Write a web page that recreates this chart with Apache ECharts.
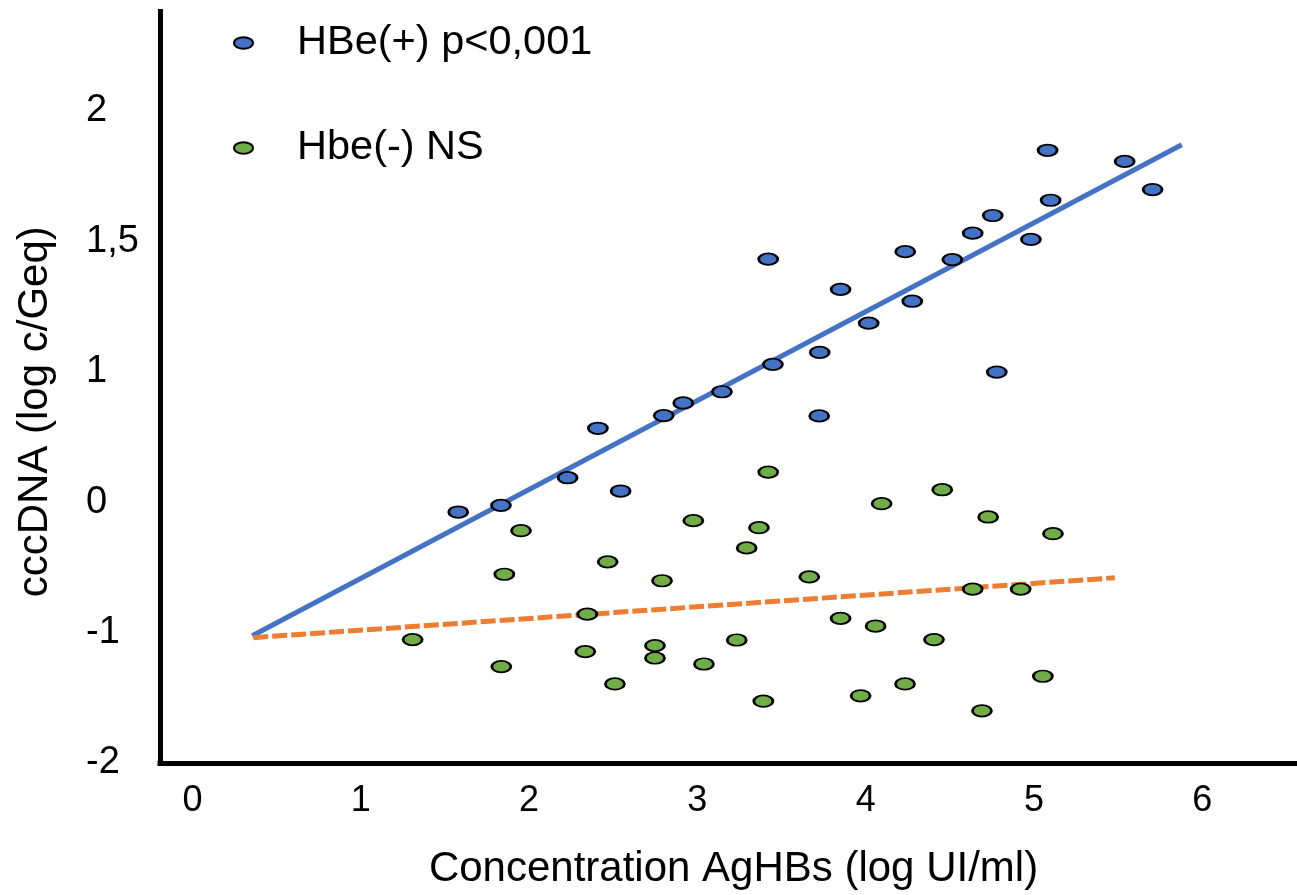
<!DOCTYPE html>
<html>
<head>
<meta charset="utf-8">
<script src="https://cdn.jsdelivr.net/npm/echarts@6/dist/echarts.min.js"></script>
<style>
  html, body { margin: 0; padding: 0; background: #ffffff; }
  #chart { width: 1297px; height: 895px; }
</style>
</head>
<body>
<div id="chart"></div>
<script>
// Horizontal axis: AgHBs concentration (log UI/ml).
// Vertical axis: cccDNA, plotted on evenly spaced tick steps; step i is labelled yTickLabels[i].
const xTickLabels = ['0', '1', '2', '3', '4', '5', '6'];
const yTickLabels = ['-2', '-1', '0', '1', '1,5', '2'];
const seriesNames = ['HBe(+) p<0,001', 'Hbe(-) NS'];

// HBe(+) patients: [AgHBs, cccDNA step]
const hbePositive = [
  [1.579, 1.924], [1.833, 1.975], [2.229, 2.187], [2.544, 2.085], [2.409, 2.566],
  [2.800, 2.663], [2.916, 2.760], [3.146, 2.846], [3.449, 3.056], [3.421, 3.863],
  [3.727, 3.148], [3.724, 2.661], [3.851, 3.631], [4.018, 3.372], [4.235, 3.920],
  [4.277, 3.540], [4.515, 3.859], [4.636, 4.062], [4.755, 4.197], [4.779, 2.997],
  [4.982, 4.014], [5.081, 4.697], [5.099, 4.314], [5.539, 4.612], [5.705, 4.396]
];

// HBe(-) patients: [AgHBs, cccDNA step]
const hbeNegative = [
  [1.308, 0.946], [1.835, 0.739], [1.853, 1.447], [1.952, 1.781], [2.334, 0.854],
  [2.346, 1.141], [2.467, 1.542], [2.510, 0.606], [2.748, 0.900], [2.748, 0.805],
  [2.790, 1.397], [2.976, 1.858], [3.039, 0.759], [3.234, 0.943], [3.293, 1.649],
  [3.366, 1.804], [3.392, 0.474], [3.421, 2.230], [3.665, 1.427], [3.851, 1.109],
  [3.970, 0.515], [4.059, 1.050], [4.095, 1.988], [4.234, 0.606], [4.406, 0.946],
  [4.455, 2.095], [4.636, 1.333], [4.691, 0.400], [4.728, 1.886], [4.921, 1.333],
  [5.053, 0.665], [5.113, 1.758]
];

// Regression lines (start and end points)
const hbePositiveFit = [[0.355, 0.976], [5.878, 4.740]];
const hbeNegativeFit = [[0.361, 0.961], [5.481, 1.420]];

const FONT = "'Liberation Sans', Arial, Helvetica, sans-serif";
// Flat ellipse marker (19 x 11.5) used for the points and the legend
const ELLIPSE = 'path://M0,5.75A9.5,5.75,0,1,1,19,5.75A9.5,5.75,0,1,1,0,5.75Z';
const BLUE = '#4472C4';
const GREEN = '#70AD47';
const ORANGE = '#ED7D31';

const chart = echarts.init(document.getElementById('chart'), null, { renderer: 'canvas' });

const markerStyle = (fill) => ({ color: fill, borderColor: '#000000', borderWidth: 2.2, opacity: 1 });

chart.setOption({
  animation: false,
  backgroundColor: '#ffffff',
  textStyle: { fontFamily: FONT, color: '#000000' },
  grid: { left: 160, right: 0, top: 11.5, bottom: 130, containLabel: false },
  legend: {
    data: seriesNames,
    orient: 'vertical',
    left: 233,
    top: 22,
    padding: 0,
    itemGap: 63,
    itemWidth: 19,
    itemHeight: 11.5,
    icon: ELLIPSE,
    selectedMode: false,
    textStyle: { fontFamily: FONT, fontSize: 41.5, lineHeight: 42, color: '#000000', padding: [0, 0, 0, 39] }
  },
  xAxis: {
    type: 'value',
    min: -0.193,
    max: 6.563,
    name: 'Concentration AgHBs (log UI/ml)',
    nameLocation: 'middle',
    nameGap: 85,
    nameTextStyle: { fontFamily: FONT, fontSize: 42, lineHeight: 42, color: '#000000', padding: [0, 0, 0, 10] },
    axisLine: { show: true, onZero: false, lineStyle: { color: '#000000', width: 5, cap: 'square' } },
    axisTick: { show: false },
    splitLine: { show: false },
    axisLabel: {
      customValues: xTickLabels.map((_, i) => i),
      formatter: (v) => xTickLabels[Math.round(v)] ?? '',
      fontFamily: FONT, fontSize: 36, lineHeight: 36, color: '#000000', margin: 20
    }
  },
  yAxis: {
    type: 'value',
    min: 0,
    max: 5.761,
    name: 'cccDNA (log c/Geq)',
    nameLocation: 'middle',
    nameGap: 104,
    nameTextStyle: { fontFamily: FONT, fontSize: 42, lineHeight: 42, color: '#000000', padding: [0, 49, 0, 0] },
    axisLine: { show: true, onZero: false, lineStyle: { color: '#000000', width: 5, cap: 'square' } },
    axisTick: { show: false },
    splitLine: { show: false },
    axisLabel: {
      customValues: yTickLabels.map((_, i) => i),
      formatter: (v) => yTickLabels[Math.round(v)] ?? '',
      align: 'left',
      fontFamily: FONT, fontSize: 38, lineHeight: 38, color: '#000000', margin: 74
    }
  },
  series: [
    {
      name: 'HBe(+) fit',
      type: 'line',
      data: hbePositiveFit,
      showSymbol: false,
      silent: true,
      z: 1,
      lineStyle: { color: BLUE, width: 5, cap: 'butt' }
    },
    {
      name: 'HBe(-) fit',
      type: 'line',
      data: hbeNegativeFit,
      showSymbol: false,
      silent: true,
      z: 1,
      lineStyle: { color: ORANGE, width: 5, type: [15, 4], cap: 'butt' }
    },
    {
      name: seriesNames[0],
      type: 'scatter',
      data: hbePositive,
      symbol: ELLIPSE,
      symbolSize: [19, 11.5],
      z: 3,
      itemStyle: markerStyle(BLUE)
    },
    {
      name: seriesNames[1],
      type: 'scatter',
      data: hbeNegative,
      symbol: ELLIPSE,
      symbolSize: [19, 11.5],
      z: 3,
      itemStyle: markerStyle(GREEN)
    }
  ]
});
</script>
</body>
</html>
